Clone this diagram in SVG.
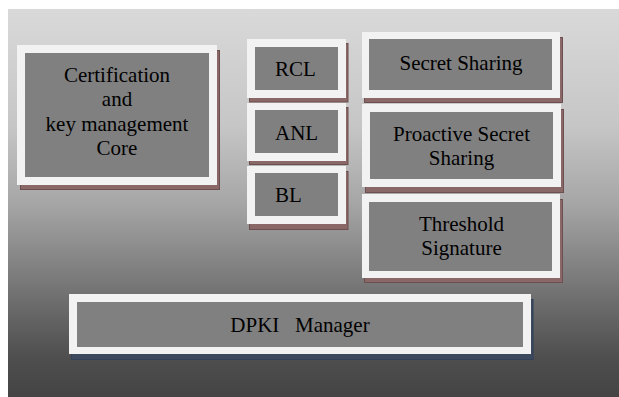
<svg xmlns="http://www.w3.org/2000/svg" width="619" height="397" viewBox="0 0 619 397">
  <defs>
    <linearGradient id="bg" x1="0" y1="0" x2="0" y2="1">
      <stop offset="0" stop-color="#d9d9d9"/>
      <stop offset="0.3" stop-color="#c6c6c6"/>
      <stop offset="0.5" stop-color="#a6a6a6"/>
      <stop offset="0.75" stop-color="#6e6e6e"/>
      <stop offset="0.9" stop-color="#4e4e4e"/>
      <stop offset="1" stop-color="#444444"/>
    </linearGradient>
    <style>
      .shadow { fill: #8a6868; stroke: #6e4f4f; stroke-width: 1; }
      .shadow-blue { fill: #3d4a5e; stroke: #33405a; stroke-width: 1; }
      .frame { fill: #f2f2f2; }
      .panel { fill: #808080; }
    </style>
  </defs>

  <rect x="0" y="0" width="619" height="397" fill="#ffffff"/>
  <rect x="8" y="9" width="611" height="388" fill="url(#bg)"/>

  <g id="connectors"/>

  <!-- each block: offset shadow, light frame, grey panel, label -->
  <g id="cert-core">
    <rect class="shadow" x="20.5" y="50.5" width="199" height="139"/>
    <rect class="frame" x="17" y="45" width="200" height="140"/>
    <rect class="panel" x="25" y="53" width="184" height="124"/>
    <text x="117" y="82" font-family="Liberation Serif, serif" font-size="21px" text-anchor="middle">Certification</text>
    <text x="117" y="106" font-family="Liberation Serif, serif" font-size="21px" text-anchor="middle">and</text>
    <text x="117" y="130.5" font-family="Liberation Serif, serif" font-size="21px" text-anchor="middle">key management</text>
    <text x="117" y="155" font-family="Liberation Serif, serif" font-size="21px" text-anchor="middle">Core</text>
  </g>

  <g id="rcl">
    <rect class="shadow" x="249.5" y="43.5" width="98.5" height="58.5"/>
    <rect class="frame" x="247" y="39" width="99" height="59"/>
    <rect class="panel" x="255" y="47" width="83" height="43"/>
    <text x="275" y="76" font-family="Liberation Serif, serif" font-size="21px">RCL</text>
  </g>

  <g id="anl">
    <rect class="shadow" x="249.5" y="107.5" width="98.5" height="57"/>
    <rect class="frame" x="247" y="103" width="99" height="58"/>
    <rect class="panel" x="255" y="110" width="83" height="43"/>
    <text x="275" y="139.5" font-family="Liberation Serif, serif" font-size="21px">ANL</text>
  </g>

  <g id="bl">
    <rect class="shadow" x="249.5" y="171.5" width="98.5" height="58"/>
    <rect class="frame" x="247" y="166" width="99" height="58"/>
    <rect class="panel" x="255" y="173" width="83" height="43"/>
    <text x="275" y="202" font-family="Liberation Serif, serif" font-size="21px">BL</text>
  </g>

  <g id="secret-sharing">
    <rect class="shadow" x="364.5" y="37.5" width="198" height="65"/>
    <rect class="frame" x="362" y="32" width="198" height="66"/>
    <rect class="panel" x="369" y="39" width="183" height="51"/>
    <text x="461" y="69.5" font-family="Liberation Serif, serif" font-size="21px" text-anchor="middle">Secret Sharing</text>
  </g>

  <g id="proactive-secret-sharing">
    <rect class="shadow" x="365.5" y="109.5" width="198" height="83"/>
    <rect class="frame" x="362" y="104" width="199" height="83"/>
    <rect class="panel" x="370" y="112" width="183" height="67"/>
    <text x="461.5" y="141" font-family="Liberation Serif, serif" font-size="21px" text-anchor="middle">Proactive Secret</text>
    <text x="461.5" y="164.5" font-family="Liberation Serif, serif" font-size="21px" text-anchor="middle">Sharing</text>
  </g>

  <g id="threshold-signature">
    <rect class="shadow" x="364.5" y="199.5" width="198" height="83"/>
    <rect class="frame" x="362" y="194" width="198" height="84"/>
    <rect class="panel" x="369" y="202" width="183" height="69"/>
    <text x="461.5" y="231" font-family="Liberation Serif, serif" font-size="21px" text-anchor="middle">Threshold</text>
    <text x="461.5" y="255" font-family="Liberation Serif, serif" font-size="21px" text-anchor="middle">Signature</text>
  </g>

  <g id="dpki-manager">
    <rect class="shadow-blue" x="71.5" y="299.5" width="461.5" height="60"/>
    <rect class="frame" x="69" y="294" width="462" height="60"/>
    <rect class="panel" x="77" y="302" width="446" height="45"/>
    <text x="300" y="332" font-family="Liberation Serif, serif" font-size="21px" text-anchor="middle" xml:space="preserve">DPKI   Manager</text>
  </g>
</svg>
